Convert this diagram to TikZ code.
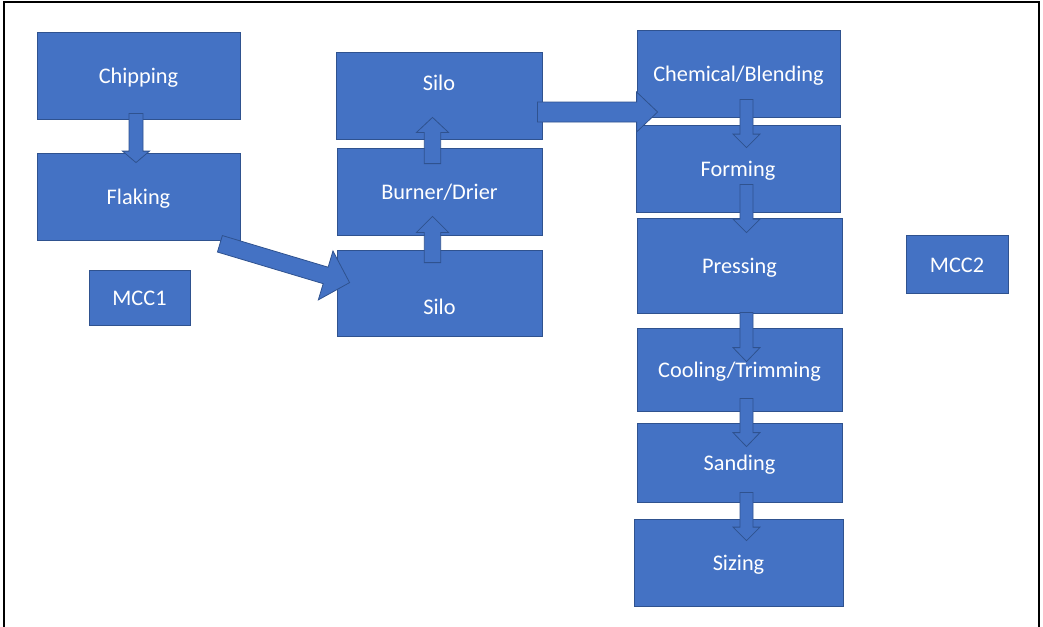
\documentclass[tikz,border=0pt]{standalone}
\usepackage{fontspec}
\setmainfont{Carlito}
\usetikzlibrary{calc}
\definecolor{boxblue}{HTML}{4472C4}
\definecolor{boxedge}{HTML}{2F528F}
\tikzset{
  procbox/.style={draw=boxedge, line width=0.8pt, fill=boxblue, text=white,
    inner sep=0pt, font=\fontsize{22.3}{27}\selectfont,
    text height=20pt, text depth=4pt},
  barrow/.style={draw=boxedge, line width=0.8pt, fill=boxblue, line join=miter},
  frameline/.style={draw=black, line width=2pt}
}
\newcommand{\blockarrow}[5]{%
  \path ($(#2)!#5!(#1)$) coordinate (bah);
  \draw[barrow] ($(#1)!#3!90:(#2)$) -- ($(bah)!#3!90:(#2)$) -- ($(bah)!#4!90:(#2)$)
    -- (#2) -- ($(bah)!#4!-90:(#2)$) -- ($(bah)!#3!-90:(#2)$)
    -- ($(#1)!#3!-90:(#2)$) -- cycle;}
\begin{document}
\begin{tikzpicture}[x=1pt, y=-1pt]
\useasboundingbox (0,0) rectangle (1043,626);
\fill[white] (0,0) rectangle (1043,626);
\draw[frameline] (4,627) -- (4,2.5) -- (1039,2.5) -- (1039,627);

% column 1
\node[procbox, minimum width=203pt, minimum height=87pt] (chip) at (138.5,75.5) {Chipping};
\node[procbox, minimum width=203pt, minimum height=87pt] (flak) at (138.5,196.5) {Flaking};
\node[procbox, minimum width=101pt, minimum height=55pt] (mcc1) at (139.5,297.5) {MCC1};

% column 2
\node[procbox, minimum width=206pt, minimum height=87pt, text depth=31pt] (silotop) at (439,95.5) {Silo};
\node[procbox, minimum width=205pt, minimum height=87pt] (burner) at (439.5,191.5) {Burner/Drier};
\node[procbox, minimum width=205pt, minimum height=86pt, text height=46pt] (silobot) at (439.5,293) {Silo};

% column 3
\node[procbox, minimum width=203pt, minimum height=87pt] (chem) at (738.5,73.5) {Chemical/Blending};
\node[procbox, minimum width=204pt, minimum height=87pt] (form) at (738,168.5) {Forming};
\node[procbox, minimum width=205pt, minimum height=95pt] (press) at (739.5,265.5) {Pressing};
\node[procbox, minimum width=205pt, minimum height=83pt] (cool) at (739.5,369.5) {Cooling/Trimming};
\node[procbox, minimum width=205pt, minimum height=79pt] (sand) at (739.5,462.5) {Sanding};
\node[procbox, minimum width=209pt, minimum height=87pt] (size) at (738.5,562.5) {Sizing};

\node[procbox, minimum width=102pt, minimum height=58pt] (mcc2) at (957,264) {MCC2};

% arrow end points, tied to the boxes
\coordinate (a1s) at ($(chip.south)+(-2.5,-6)$);
\coordinate (a1t) at ($(flak.north)+(-2.5,10)$);
\coordinate (a2s) at ($(flak.south east)+(-20.5,3.4)$);
\coordinate (a2t) at ($(silobot.north west)+(13,33)$);
\coordinate (a3s) at ($(silobot.north)+(-7,13)$);
\coordinate (a3t) at ($(burner.south)+(-7,-19)$);
\coordinate (a4s) at ($(burner.north)+(-7,16)$);
\coordinate (a4t) at ($(silotop.south)+(-6.5,-22)$);
\coordinate (a5s) at ($(silotop.east)+(-5,16.5)$);
\coordinate (a5t) at ($(chem.west)+(21,38.5)$);
\coordinate (a6s) at ($(chem.south)+(8,-18)$);
\coordinate (a6t) at ($(form.north)+(8.5,23)$);
\coordinate (a7s) at ($(form.south)+(8.5,-28)$);
\coordinate (a7t) at ($(press.north)+(7,15)$);
\coordinate (a8s) at ($(press.south)+(7,-1)$);
\coordinate (a8t) at ($(cool.north)+(7,34)$);
\coordinate (a9s) at ($(cool.south)+(7,-13)$);
\coordinate (a9t) at ($(sand.north)+(7,24)$);
\coordinate (a10s) at ($(sand.south)+(7,-10)$);
\coordinate (a10t) at ($(size.north)+(8,22)$);

\blockarrow{a1s}{a1t}{7pt}{13.5pt}{11.5pt}
\blockarrow{a2s}{a2t}{8.6pt}{25.5pt}{25pt}
\blockarrow{a3s}{a3t}{8.2pt}{16pt}{16pt}
\blockarrow{a4s}{a4t}{8.2pt}{16pt}{15pt}
\blockarrow{a5s}{a5t}{10pt}{20pt}{21pt}
\blockarrow{a6s}{a6t}{6.5pt}{13.5pt}{13.5pt}
\blockarrow{a7s}{a7t}{6.5pt}{13.5pt}{13.5pt}
\blockarrow{a8s}{a8t}{6.5pt}{13.5pt}{14pt}
\blockarrow{a9s}{a9t}{6.5pt}{13.5pt}{14pt}
\blockarrow{a10s}{a10t}{6.5pt}{13.5pt}{13.5pt}
\end{tikzpicture}
\end{document}
